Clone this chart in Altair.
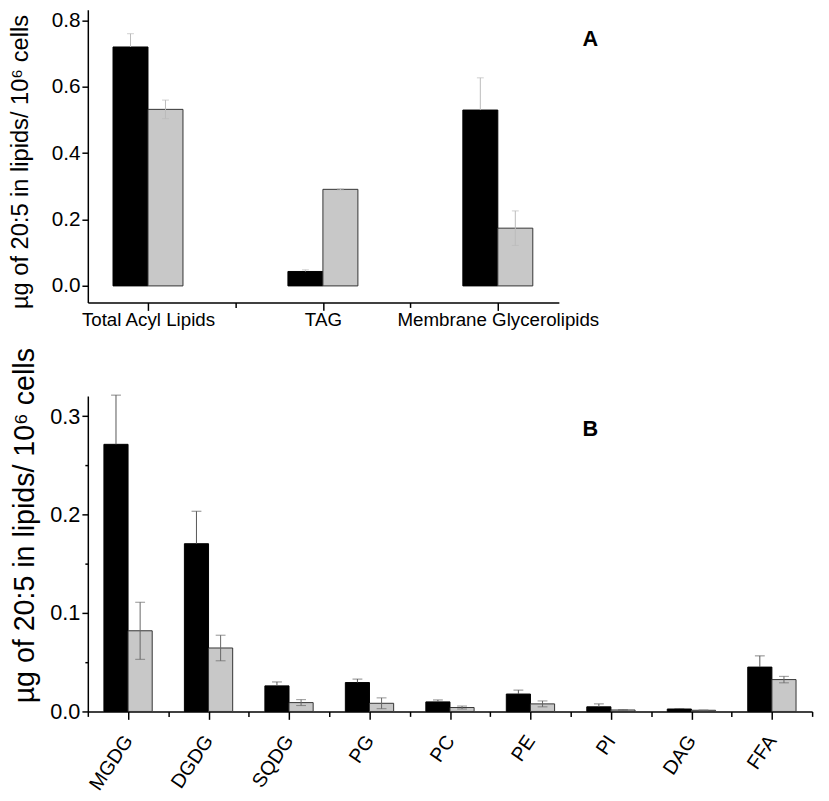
import altair as alt
import pandas as pd

FONT = "Liberation Sans"
S1, S2 = "Series 1", "Series 2"

# ---- Panel A data ----
top_categories = ["Total Acyl Lipids", "TAG", "Membrane Glycerolipids"]
top_black = [0.720, 0.0435, 0.530]
top_black_err = [0.040, 0.005, 0.097]
top_gray = [0.532, 0.291, 0.174]
top_gray_err = [0.028, 0.002, 0.052]
top_yticks = [0.0, 0.1, 0.2, 0.3, 0.4, 0.5, 0.6, 0.7, 0.8]
top_xticks = [1, 1.5, 2, 2.5, 3]

# ---- Panel B data ----
bottom_categories = ["MGDG", "DGDG", "SQDG", "PG", "PC", "PE", "PI", "DAG", "FFA"]
bottom_black = [0.2715, 0.1705, 0.026, 0.0294, 0.0097, 0.0177, 0.0047, 0.0025, 0.0451]
bottom_black_err = [0.050, 0.033, 0.004, 0.0035, 0.002, 0.004, 0.003, 0.0005, 0.0114]
bottom_gray = [0.082, 0.0645, 0.009, 0.0083, 0.004, 0.0077, 0.0015, 0.0012, 0.0324]
bottom_gray_err = [0.029, 0.013, 0.003, 0.0055, 0.0015, 0.003, 0.0005, 0.0003, 0.0033]
bottom_yticks = [0.0, 0.05, 0.1, 0.15, 0.2, 0.25, 0.3]
bottom_xticks = [0.5, 1, 1.5, 2, 2.5, 3, 3.5, 4, 4.5, 5, 5.5, 6, 6.5, 7, 7.5, 8, 8.5, 9, 9.5]

YTITLE = "µg of 20:5 in lipids/ 10⁶ cells"


def make_df(cats, b, be, g, ge):
    rows = []
    for i, c in enumerate(cats):
        rows.append({"category": c, "pos": i + 1, "series": S1, "value": b[i], "err": be[i]})
        rows.append({"category": c, "pos": i + 1, "series": S2, "value": g[i], "err": ge[i]})
    return pd.DataFrame(rows)


def label_expr(cats):
    expr = "''"
    for i in range(len(cats) - 1, -1, -1):
        expr = f"datum.value == {i + 1} ? '{cats[i]}' : ({expr})"
    return expr


def panel(df, cats, bw, xdom, ydom, width, height, yticks, ymajor_mult, xticks,
          ylab_size, xlab_size, xlab_angle, xlab_pad, title_size, title_y, title_pad,
          err_color_1, err_color_2, cap, letter, letter_xy):
    xs = alt.Scale(domain=xdom, nice=False, zero=False)
    ys = alt.Scale(domain=ydom, nice=False, zero=False)
    base = alt.Chart(df).transform_calculate(
        x0=f"datum.pos + (datum.series == '{S1}' ? -{bw} : 0)"
    ).transform_calculate(
        x1=f"datum.x0 + {bw}"
    ).transform_calculate(
        xc=f"datum.x0 + {bw / 2}"
    ).transform_calculate(
        lo=f"datum.series == '{S1}' ? datum.value : datum.value - datum.err"
    ).transform_calculate(
        hi="datum.value + datum.err"
    )
    xaxis_kw = dict(
        values=xticks,
        labelExpr=label_expr(cats),
        tickSize={"condition": {"test": "datum.value % 1 == 0", "value": 8}, "value": 5},
        labelFontSize=xlab_size,
        labelPadding=xlab_pad,
        labelFlush=False,
        labelOverlap=False,
        labelLimit=0,
        title=None,
    )
    if xlab_angle is not None:
        xaxis_kw.update(labelAngle=xlab_angle, labelAlign="right", labelBaseline="middle")
    xaxis = alt.Axis(**xaxis_kw)
    ytest = f"round(datum.value * {ymajor_mult}) % 2 == 0"
    yaxis = alt.Axis(
        values=yticks,
        labelExpr=f"{ytest} ? format(datum.value, '.1f') : ''",
        tickSize={"condition": {"test": ytest, "value": 6}, "value": 3},
        labelFontSize=ylab_size,
        labelPadding=2,
        title=YTITLE,
        titleFontSize=title_size,
        titleFontWeight="normal",
        titlePadding=title_pad,
        titleY=title_y,
        labelFlush=False,
        labelOverlap=False,
    )
    bars = base.mark_bar(strokeWidth=1).encode(
        x=alt.X("x0:Q", scale=xs, axis=xaxis),
        x2="x1:Q",
        y=alt.Y("value:Q", scale=ys, axis=yaxis),
        y2=alt.datum(0),
        color=alt.Color("series:N", scale=alt.Scale(domain=[S1, S2], range=["#000000", "#c8c8c8"]), legend=None),
        stroke=alt.Stroke("series:N", scale=alt.Scale(domain=[S1, S2], range=["#000000", "#333333"]), legend=None),
    )
    ecolor = alt.Color("series:N", scale=alt.Scale(domain=[S1, S2], range=[err_color_1, err_color_2]), legend=None)
    rules = base.mark_rule(strokeWidth=1).encode(
        x=alt.X("xc:Q"),
        y=alt.Y("lo:Q"),
        y2="hi:Q",
        color=ecolor,
    )
    caps_hi = base.mark_tick(orient="horizontal", size=cap, thickness=1).encode(
        x=alt.X("xc:Q"),
        y=alt.Y("hi:Q"),
        color=ecolor,
    )
    caps_lo = base.transform_filter(f"datum.series == '{S2}'").mark_tick(
        orient="horizontal", size=cap, thickness=1).encode(
        x=alt.X("xc:Q"),
        y=alt.Y("lo:Q"),
        color=ecolor,
    )
    text = alt.Chart(pd.DataFrame({"label": [letter]})).mark_text(
        font=FONT, fontSize=22, fontWeight="bold", align="center", baseline="middle", color="black"
    ).encode(x=alt.value(letter_xy[0]), y=alt.value(letter_xy[1]), text="label:N")
    return alt.layer(bars, rules, caps_hi, caps_lo, text).resolve_scale(
        color="independent", stroke="independent").properties(width=width, height=height)


top_df = make_df(top_categories, top_black, top_black_err, top_gray, top_gray_err)
bottom_df = make_df(bottom_categories, bottom_black, bottom_black_err, bottom_gray, bottom_gray_err)

top = panel(top_df, top_categories, 0.2, [0.656, 3.349], [-0.05, 0.832], 478, 297,
            top_yticks, 10, top_xticks, 21, 19, None, 0, 24, 154, 19,
            "#bbbbbb", "#bbbbbb", 7, "A", (510, 30))
bottom = panel(bottom_df, bottom_categories, 0.3, [0.5, 9.5], [0, 0.3205], 735, 320,
               bottom_yticks, 20, bottom_xticks, 22, 20, 304, 18, 29, 131, 11,
               "#555555", "#666666", 10, "B", (510, 33))

chart = alt.vconcat(top, bottom, spacing=18).properties(
    padding={"left": 0, "top": -5, "right": 0, "bottom": 0}
).configure_axis(
    labelFont=FONT, titleFont=FONT, domainColor="black", tickColor="black",
    labelColor="black", titleColor="black", grid=False, domainWidth=1.5, tickWidth=1.5,
).configure_view(stroke=None)

chart.save("out.html", embed_options={"renderer": "svg", "actions": False})
